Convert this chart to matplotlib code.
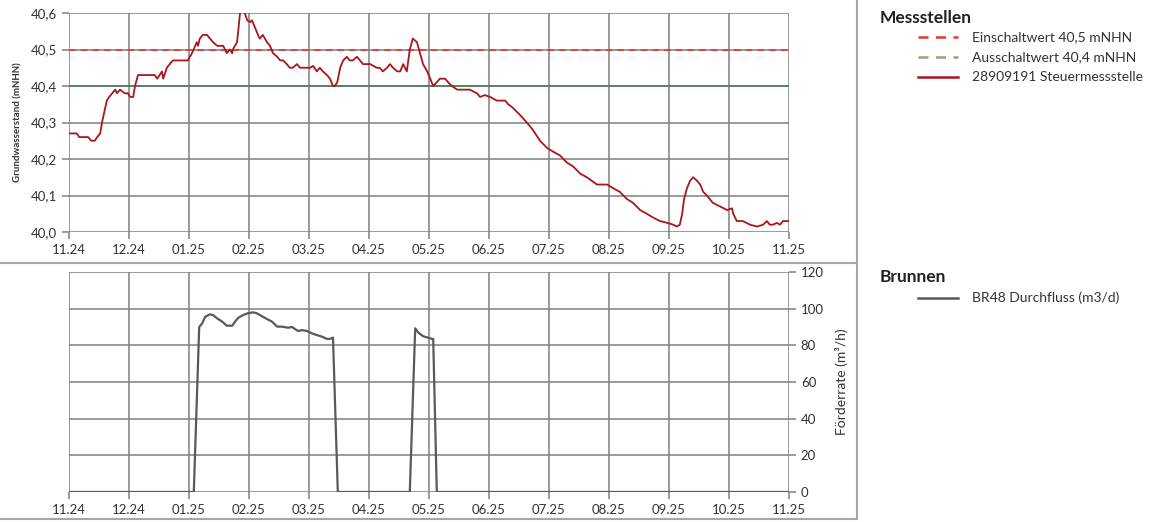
import matplotlib
matplotlib.use("Agg")
import matplotlib.pyplot as plt
from matplotlib.lines import Line2D

plt.rcParams['font.family'] = ['Lato', 'DejaVu Sans']

# ---------------- data ----------------
month_labels = ["11.24", "12.24", "01.25", "02.25", "03.25", "04.25", "05.25",
                "06.25", "07.25", "08.25", "09.25", "10.25", "11.25"]

# groundwater level 28909191 (month index from 11.24, value in mNHN)
level_t = [0.0, 0.13, 0.17, 0.32, 0.37, 0.43, 0.47, 0.52, 0.55, 0.63, 0.67, 0.72, 0.77, 0.8,
           0.85, 0.93, 0.98, 1.02, 1.07, 1.1, 1.15, 1.27, 1.43, 1.47, 1.55, 1.57, 1.63, 1.68,
           1.73, 1.98, 2.05, 2.13, 2.15, 2.18, 2.23, 2.3, 2.35, 2.4, 2.47, 2.52, 2.57, 2.63,
           2.68, 2.72, 2.73, 2.8, 2.82, 2.85, 2.88, 2.9, 2.93, 2.97, 3.02, 3.05, 3.1, 3.15,
           3.18, 3.23, 3.3, 3.35, 3.4, 3.47, 3.52, 3.57, 3.63, 3.68, 3.73, 3.8, 3.85, 3.9,
           4.02, 4.07, 4.13, 4.18, 4.23, 4.3, 4.35, 4.4, 4.43, 4.47, 4.52, 4.57, 4.63, 4.68,
           4.73, 4.8, 4.85, 4.9, 5.02, 5.13, 5.18, 5.23, 5.3, 5.35, 5.4, 5.47, 5.52, 5.57,
           5.63, 5.68, 5.73, 5.8, 5.85, 5.9, 5.97, 6.02, 6.07, 6.13, 6.18, 6.27, 6.32, 6.38,
           6.47, 6.55, 6.68, 6.8, 6.85, 6.93, 7.02, 7.13, 7.27, 7.32, 7.4, 7.52, 7.63, 7.73,
           7.85, 7.97, 8.07, 8.18, 8.3, 8.4, 8.52, 8.63, 8.8, 8.97, 9.07, 9.18, 9.3, 9.4,
           9.52, 9.63, 9.73, 9.85, 9.97, 10.07, 10.13, 10.18, 10.22, 10.25, 10.3, 10.35, 10.4,
           10.47, 10.52, 10.57, 10.63, 10.68, 10.73, 10.85, 10.97, 11.05, 11.07, 11.13, 11.23,
           11.35, 11.47, 11.57, 11.63, 11.68, 11.73, 11.8, 11.85, 11.9, 12.0]
level_v = [40.27, 40.27, 40.26, 40.26, 40.25, 40.25, 40.26, 40.27, 40.30, 40.36, 40.37, 40.38,
           40.39, 40.38, 40.39, 40.38, 40.38, 40.37, 40.37, 40.40, 40.43, 40.43, 40.43, 40.42,
           40.44, 40.42, 40.45, 40.46, 40.47, 40.47, 40.49, 40.52, 40.51, 40.53, 40.54, 40.54,
           40.53, 40.52, 40.51, 40.51, 40.51, 40.49, 40.50, 40.49, 40.50, 40.52, 40.55, 40.60,
           40.61, 40.62, 40.60, 40.58, 40.575, 40.58, 40.56, 40.54, 40.53, 40.54, 40.52, 40.51,
           40.49, 40.48, 40.47, 40.47, 40.46, 40.45, 40.45, 40.46, 40.45, 40.45, 40.45, 40.455,
           40.44, 40.45, 40.44, 40.43, 40.42, 40.40, 40.40, 40.41, 40.45, 40.47, 40.48, 40.47,
           40.47, 40.48, 40.47, 40.46, 40.46, 40.45, 40.45, 40.44, 40.45, 40.46, 40.45, 40.44,
           40.44, 40.46, 40.44, 40.50, 40.53, 40.52, 40.49, 40.46, 40.44, 40.42, 40.40, 40.41,
           40.42, 40.42, 40.41, 40.40, 40.39, 40.39, 40.39, 40.38, 40.37, 40.375, 40.37, 40.36,
           40.36, 40.35, 40.34, 40.32, 40.30, 40.28, 40.25, 40.23, 40.22, 40.21, 40.19, 40.18,
           40.16, 40.15, 40.13, 40.13, 40.12, 40.11, 40.09, 40.08, 40.06, 40.05, 40.04, 40.03,
           40.025, 40.02, 40.015, 40.02, 40.05, 40.09, 40.12, 40.14, 40.15, 40.14, 40.13, 40.11,
           40.10, 40.09, 40.08, 40.07, 40.06, 40.065, 40.05, 40.03, 40.03, 40.02, 40.015, 40.02,
           40.03, 40.02, 40.02, 40.025, 40.02, 40.03, 40.03]

einschalt = 40.5
ausschalt = 40.4

# well BR48 flow rate
flow_t = [0.0, 2.08, 2.17, 2.22, 2.27, 2.35, 2.4, 2.47, 2.55, 2.63, 2.72, 2.77, 2.82, 2.9, 2.98,
          3.07, 3.13, 3.23, 3.32, 3.38, 3.47, 3.55, 3.65, 3.72, 3.77, 3.82, 3.88, 3.97, 4.05,
          4.13, 4.22, 4.3, 4.35, 4.4, 4.48, 5.68, 5.77, 5.82, 5.9, 5.98, 6.05, 6.07, 6.13, 12.0]
flow_v = [0, 0, 90, 92, 95.6, 96.9, 96.5, 94.7, 93, 90.7, 90.7, 93, 95, 96.5, 97.5,
          98, 97.5, 95.6, 94, 93, 90.2, 90.2, 89.6, 90, 88.8, 87.8, 88.3, 87.8, 86.5,
          85.6, 84.7, 83.5, 83.5, 84.2, 0, 0, 89.3, 87, 85, 84.2, 83.5, 83.5, 0, 0]

# ---------------- figure ----------------
W, H = 1166, 522
fig = plt.figure(figsize=(W / 100, H / 100), dpi=100)

def ax_rect(x0, y0, x1, y1):
    return [x0 / W, 1 - y1 / H, (x1 - x0) / W, (y1 - y0) / H]

grid_c = '#7f7f7f'
txt_c = '#333333'

ax1 = fig.add_axes(ax_rect(69, 13, 789, 232))
ax2 = fig.add_axes(ax_rect(69, 272, 789, 492))

for ax in (ax1, ax2):
    ax.set_xlim(0, 12)
    ax.set_xticks(range(13))
    ax.set_xticklabels(month_labels)
    ax.grid(True, color=grid_c, linewidth=1.1)
    ax.set_axisbelow(True)
    for s in ax.spines.values():
        s.set_visible(False)
    ax.tick_params(axis='both', colors=grid_c, labelcolor=txt_c, labelsize=9.5,
                   length=5, width=1.1)

# top chart
ax1.axhline(einschalt, color='#e8352e', linewidth=1.2, linestyle=(0, (4, 3)), zorder=2)
ax1.axhline(ausschalt, color='#4e7d5c', linewidth=1.2, zorder=2)
ax1.plot(level_t, level_v, color='#a8171c', linewidth=1.3, zorder=3, clip_on=True)
ax1.set_ylim(40.0, 40.6)
yt = [40.0, 40.1, 40.2, 40.3, 40.4, 40.5, 40.6]
ax1.set_yticks(yt)
ax1.set_yticklabels([f"{v:.1f}".replace('.', ',') for v in yt])
ax1.set_ylabel("Grundwasserstand (mNHN)", fontsize=7, fontweight='bold', color=txt_c, labelpad=6)

# bottom chart
ax2.plot(flow_t, flow_v, color='#595959', linewidth=1.6, zorder=3)
ax2.set_ylim(0, 120)
ax2.set_yticks(range(0, 121, 20))
ax2.yaxis.tick_right()
ax2.yaxis.set_label_position('right')
ax2.set_ylabel("Förderrate (m³/h)", fontsize=10, color=txt_c, labelpad=8)

# separators
fig.add_artist(Line2D([0, 857 / W], [1 - 263 / H, 1 - 263 / H], color='#a6a6a6', linewidth=1.5))
fig.add_artist(Line2D([857 / W, 857 / W], [1 - 519 / H, 1.0], color='#a6a6a6', linewidth=1.5))
fig.add_artist(Line2D([0, 857 / W], [1 - 519 / H, 1 - 519 / H], color='#a6a6a6', linewidth=1.5))

# legends
def fx(x):
    return x / W

def fy(y):
    return 1 - y / H

fig.text(fx(880), fy(18), "Messstellen", fontsize=12.5, fontweight='bold', color='#222222', va='center')
leg_items = [
    ("Einschaltwert 40,5 mNHN", '#e8352e', (0, (4, 3)), 37),
    ("Ausschaltwert 40,4 mNHN", '#9aa07a', (0, (4, 3)), 57),
    ("28909191 Steuermessstelle", '#a8171c', '-', 77),
]
for label, c, ls, y in leg_items:
    fig.add_artist(Line2D([fx(918), fx(958)], [fy(y), fy(y)], color=c, linestyle=ls, linewidth=1.8))
    fig.text(fx(972), fy(y), label, fontsize=10, color=txt_c, va='center')

fig.text(fx(880), fy(277), "Brunnen", fontsize=12.5, fontweight='bold', color='#222222', va='center')
fig.add_artist(Line2D([fx(918), fx(958)], [fy(298), fy(298)], color='#595959', linewidth=1.8))
fig.text(fx(972), fy(298), "BR48 Durchfluss (m3/d)", fontsize=10, color=txt_c, va='center')

fig.savefig("out.png", dpi=100)
